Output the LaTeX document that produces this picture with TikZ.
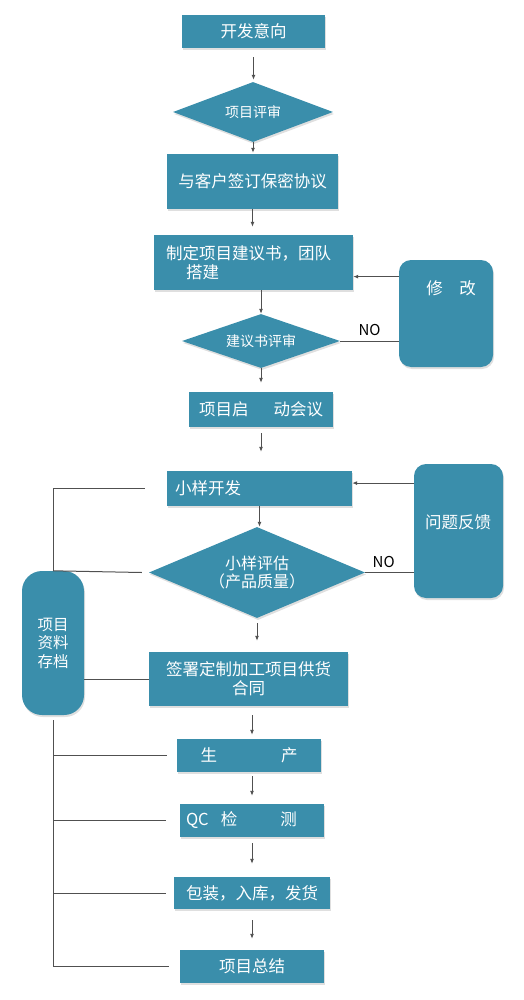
\documentclass[tikz,border=0pt]{standalone}
\usepackage{fontspec}
\setmainfont{Noto Sans CJK SC}
\usepackage{tikz}
\usetikzlibrary{arrows.meta,shapes.geometric,shadows,calc}
\definecolor{boxcol}{HTML}{3A8EAB}
\definecolor{linecol}{HTML}{505050}

\begin{document}
\begin{tikzpicture}[
  x=1pt, y=-1pt, >={Latex[length=5pt,width=4pt]},
  font=\fontsize{16.5}{19}\selectfont,
  box/.style={fill=boxcol, text=white, inner sep=0pt,
    drop shadow={shadow xshift=1pt, shadow yshift=-2pt, opacity=0.25}},
  roundbox/.style={box, rounded corners=12pt},
  decision/.style={box, diamond, aspect=2.5, font=\fontsize{14}{17}\selectfont},
  flow/.style={->, draw=linecol, line width=0.9pt},
  link/.style={draw=linecol, line width=1pt}
]
\useasboundingbox (0,0) rectangle (524,1000);

% main column
\node[box, minimum width=143pt, minimum height=33pt] (start) at (253.5,31.5) {开发意向};
\node[decision, minimum width=160pt, minimum height=60pt] (rev1) at (253,112) {项目评审};
\node[box, minimum width=171pt, minimum height=55pt] (nda) at (252.5,181.5) {与客户签订保密协议};
\node[box, minimum width=199pt, minimum height=55pt, text width=175pt, align=left, inner xsep=12pt] (prop) at (253.5,262.5) {制定项目建议书，团队\\\hspace*{20pt}搭建};
\node[decision, minimum width=158pt, minimum height=54pt] (rev2) at (261,341) {建议书评审};
\node[box, minimum width=144pt, minimum height=35pt] (kick) at (261,409.5) {项目启\hspace{25pt}动会议};
\node[box, minimum width=185pt, minimum height=35pt, text width=169pt, align=left, inner xsep=8pt] (sample) at (259.5,488.5) {小样开发};
\node[decision, font=\fontsize{16}{18}\selectfont, align=center, minimum width=216pt, minimum height=91pt] (eval) at (257,572.5) {小样评估\\（产品质量）};
\node[box, align=center, minimum width=199pt, minimum height=54pt] (contract) at (248.5,679) {签署定制加工项目供货\\合同};
\node[box, minimum width=144pt, minimum height=33pt] (prod) at (249,755.5) {生\hspace{64pt}产};
\node[box, minimum width=144pt, minimum height=33pt, text width=132pt, align=left, inner xsep=6pt] (qc) at (252,820.5) {QC\hspace{12pt}检\hspace{43pt}测};
\node[box, minimum width=156pt, minimum height=32pt] (pack) at (252,893) {包装，入库，发货};
\node[box, minimum width=144pt, minimum height=33pt] (summary) at (252,966.5) {项目总结};

% side boxes
\node[roundbox, minimum width=94pt, minimum height=107pt] (fix) at (446,313.5) {};
\node[text=white] (fixlabel) at (451,288) {修　改};
\node[roundbox, minimum width=89pt, minimum height=134pt] (feedback) at (458.5,531) {};
\node[text=white] (feedbacklabel) at (458,522) {问题反馈};
\node[roundbox, rounded corners=20pt, align=center, font=\fontsize{15.5}{18.5}\selectfont, minimum width=62pt, minimum height=144pt] (archive) at (53,643) {项目\\资料\\存档};

% flow arrows
\draw[flow, shorten <=9pt, shorten >=2pt] (start.south) -- (start.south |- rev1.north);
\draw[flow, shorten >=1pt] (rev1.south) -- (rev1.south |- nda.north);
\draw[flow, shorten >=8pt] (nda.south) -- (nda.south |- prop.north);
\draw[flow] (rev2.north |- prop.south) -- (rev2.north);
\draw[flow, shorten >=9pt] (rev2.south) -- (rev2.south |- kick.north);
\draw[flow, shorten <=6pt, shorten >=19pt] (kick.south) -- (kick.south |- sample.north);
\draw[flow] (sample.south) -- (sample.south |- eval.north);
\draw[flow, shorten <=5pt, shorten >=11pt] (eval.south) -- (eval.south |- contract.north);
\draw[flow, shorten <=9pt, shorten >=4pt] (qc.north |- contract.south) -- (qc.north |- prod.north);
\draw[flow, shorten <=4pt, shorten >=8pt] (qc.north |- prod.south) -- (qc.north);
\draw[flow, shorten <=6pt, shorten >=13pt] (qc.south) -- (qc.south |- pack.north);
\draw[flow, shorten <=11pt, shorten >=11pt] (pack.south) -- (pack.south |- summary.north);

% loops back
\draw[flow] (fix.142) -- (fix.142 -| prop.east);
\draw[link] (rev2.east) -- (rev2.east -| fix.west) node[midway, above=1pt, text=black, font=\fontsize{15}{17}\selectfont] (no1) {NO};
\draw[flow] (feedback.133) -- (feedback.133 -| sample.east);
\draw[link] (eval.east) -- (eval.east -| feedback.west) node[pos=0.38, above=1pt, text=black, font=\fontsize{15}{17}\selectfont] (no2) {NO};

% archive lines
\draw[link] (archive.north) |- ([xshift=-22pt]sample.west);
\draw[link] (archive.north) -- ([xshift=-7pt]eval.west);
\draw[link] (contract.west -| archive.east) -- (contract.west);
\draw[link, shorten <=5pt] (archive.south) -- (archive.south |- summary.west);
\draw[link] (archive.south |- prod.west) -- ([xshift=-10pt]prod.west);
\draw[link] (archive.south |- qc.west) -- ([xshift=-14pt]qc.west);
\draw[link] (archive.south |- pack.west) -- ([xshift=-8pt]pack.west);
\draw[link] (archive.south |- summary.west) -- ([xshift=-11pt]summary.west);
\end{tikzpicture}
\end{document}
